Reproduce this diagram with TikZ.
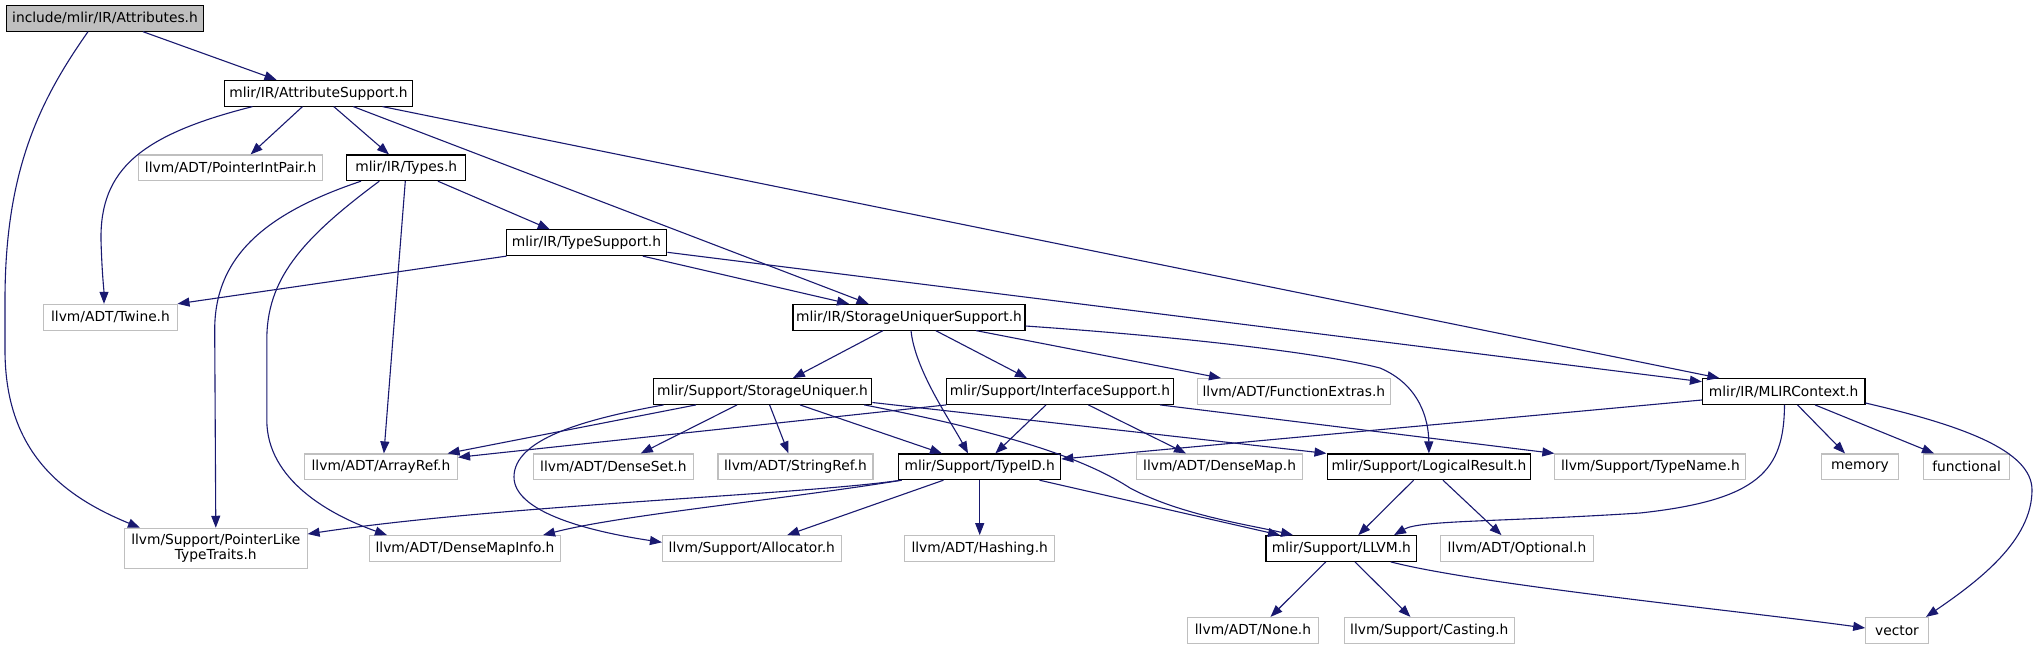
\documentclass[tikz,border=0pt]{standalone}
\usepackage{fontspec}
\setmainfont{DejaVu Sans}
\usetikzlibrary{arrows.meta}
\definecolor{edgeblue}{RGB}{25,25,112}
\definecolor{extgray}{RGB}{191,191,191}
\begin{document}
\begin{tikzpicture}[x=1pt,y=-1pt,
  every node/.style={font=\fontsize{13.8}{14.5}\selectfont},
  docbox/.style={draw=black,line width=1.1pt,fill=white,minimum height=25.7pt,inner sep=0pt},
  extbox/.style={draw=extgray,line width=1.1pt,fill=white,minimum height=25.7pt,inner sep=0pt},
  dep/.style={draw=edgeblue,line width=1.1pt,-{Triangle[length=12pt,width=9pt]}}]
\fill[white] (0,0) rectangle (2040,649);
\useasboundingbox (0,0) rectangle (2040,649);
% row 0
\node[docbox,fill=extgray,minimum width=197pt] (att) at (105,18.3) {include/mlir/IR/Attributes.h};
% row 1
\node[docbox,minimum width=188pt] (as) at (318.5,93.2) {mlir/IR/AttributeSupport.h};
% row 2
\node[extbox,minimum width=184pt] (pip) at (230.6,167.8) {llvm/ADT/PointerIntPair.h};
\node[docbox,minimum width=119pt] (types) at (406.3,167.8) {mlir/IR/Types.h};
% row 3
\node[docbox,minimum width=160.7pt] (ts) at (586.5,242.7) {mlir/IR/TypeSupport.h};
% row 4
\node[extbox,minimum width=134pt] (twine) at (110.5,317.2) {llvm/ADT/Twine.h};
\node[docbox,minimum width=232pt] (sus) at (909,317.2) {mlir/IR/StorageUniquerSupport.h};
% row 5
\node[docbox,minimum width=218.8pt] (su) at (762.5,391.5) {mlir/Support/StorageUniquer.h};
\node[docbox,minimum width=226.3pt] (is) at (1060,391.5) {mlir/Support/InterfaceSupport.h};
\node[extbox,minimum width=193pt] (fe) at (1293.9,391.5) {llvm/ADT/FunctionExtras.h};
\node[docbox,minimum width=162.5pt] (mc) at (1783.7,391.5) {mlir/IR/MLIRContext.h};
% row 6
\node[extbox,minimum width=153pt] (ar) at (381,466.8) {llvm/ADT/ArrayRef.h};
\node[extbox,minimum width=160pt] (dset) at (613.4,466.8) {llvm/ADT/DenseSet.h};
\node[extbox,minimum width=155pt] (sr) at (795.5,466.8) {llvm/ADT/StringRef.h};
\node[docbox,minimum width=162pt] (tid) at (979.7,466.8) {mlir/Support/TypeID.h};
\node[extbox,minimum width=166pt] (dmap) at (1219.6,466.8) {llvm/ADT/DenseMap.h};
\node[docbox,minimum width=203.7pt] (lr) at (1428.9,466.8) {mlir/Support/LogicalResult.h};
\node[extbox,minimum width=191pt] (tn) at (1650.4,466.8) {llvm/Support/TypeName.h};
\node[extbox,minimum width=77pt] (mem) at (1860,466.8) {memory};
\node[extbox,minimum width=86pt] (func) at (1966.6,466.8) {functional};
% row 7
\node[extbox,minimum width=182.5pt,minimum height=40pt,align=center] (pl) at (215.8,548.3) {llvm/Support/PointerLike\\TypeTraits.h};
\node[extbox,minimum width=190.7pt] (dmi) at (465,548.5) {llvm/ADT/DenseMapInfo.h};
\node[extbox,minimum width=178.6pt] (alloc) at (751.8,548.5) {llvm/Support/Allocator.h};
\node[extbox,minimum width=150.4pt] (hash) at (979.7,548.5) {llvm/ADT/Hashing.h};
\node[docbox,minimum width=150.8pt] (llvm) at (1341.4,548.5) {mlir/Support/LLVM.h};
\node[extbox,minimum width=153pt] (opt) at (1517,548.5) {llvm/ADT/Optional.h};
% row 8
\node[extbox,minimum width=131.4pt] (none) at (1253,630.3) {llvm/ADT/None.h};
\node[extbox,minimum width=170.5pt] (cast) at (1429.3,630.3) {llvm/Support/Casting.h};
\node[extbox,minimum width=62.5pt] (vec) at (1897,630.3) {vector};

% edges from Attributes.h
\draw[dep] ([xshift=38pt]att.south) -- ([xshift=-42pt]as.north);
\draw[dep] ([xshift=-17pt]att.south) .. controls (40,100) and (5,170) .. (5,300) -- (5,350) .. controls (5,450) and (60,495) .. ([xshift=-75.8pt]pl.north);
% edges from AttributeSupport.h
\draw[dep] ([xshift=-66pt]as.south) .. controls (140,135) and (100,170) .. (101,240) .. controls (102,275) and (104,290) .. ([xshift=-6.5pt]twine.north);
\draw[dep] ([xshift=-16pt]as.south) -- ([xshift=20pt]pip.north);
\draw[dep] ([xshift=15.3pt]as.south) -- ([xshift=-17.3pt]types.north);
\draw[dep] ([xshift=34.8pt]as.south) -- ([xshift=-40.4pt]sus.north);
\draw[dep] ([xshift=64pt]as.south) -- ([xshift=-64.3pt]mc.north);
% edges from Types.h
\draw[dep] ([xshift=-45.3pt]types.south) .. controls (260,215) and (214.7,260) .. (214.7,330) -- (pl.north);
\draw[dep] ([xshift=-27pt]types.south) .. controls (300,240) and (266.8,280) .. (266.8,340) -- (266.8,420) .. controls (266.8,480) and (330,515) .. ([xshift=-78pt]dmi.north);
\draw[dep] ([xshift=-1pt]types.south) -- ([xshift=2.9pt]ar.north);
\draw[dep] ([xshift=31.6pt]types.south) -- ([xshift=-36.7pt]ts.north);
% edges from TypeSupport.h
\draw[dep] ([xshift=-80pt]ts.south) -- ([xshift=67pt]twine.north);
\draw[dep] ([xshift=56.3pt]ts.south) -- ([xshift=-60pt]sus.north);
\draw[dep] ([yshift=-9.6pt]ts.east) -- ([yshift=9.8pt]mc.west);
% edges from StorageUniquerSupport.h
\draw[dep] ([xshift=-26pt]sus.south) -- ([xshift=30.4pt]su.north);
\draw[dep] ([xshift=2pt]sus.south) .. controls (915,370) and (950,420) .. ([xshift=-11.7pt]tid.north);
\draw[dep] ([xshift=26.7pt]sus.south) -- ([xshift=-33pt]is.north);
\draw[dep] ([xshift=67pt]sus.south) -- ([xshift=-72.9pt]fe.north);
\draw[dep] ([yshift=-8.8pt]sus.east) .. controls (1200,338) and (1330,355) .. (1380,368) .. controls (1420,385) and (1428.6,420) .. (lr.north);
% edges from MLIRContext.h
\draw[dep] ([yshift=-8.5pt]mc.west) -- ([yshift=7.8pt]tid.east);
\draw[dep] ([xshift=13.8pt]mc.south) -- ([xshift=-15pt]mem.north);
\draw[dep] ([xshift=31.3pt]mc.south) -- ([xshift=-32.6pt]func.north);
\draw[dep] ([yshift=-11.5pt]mc.east) .. controls (1960,425) and (2032,450) .. (2032,490) .. controls (2032,540) and (1980,580) .. ([xshift=29pt]vec.north);
\draw[dep] ([xshift=0.8pt]mc.south) .. controls (1784,470) and (1760,500) .. (1640,513) .. controls (1500,522) and (1420,520) .. ([xshift=52.6pt]llvm.north);
% edges from StorageUniquer.h
\draw[dep] ([xshift=-66.5pt]su.south) -- ([xshift=66.6pt]ar.north);
\draw[dep] ([xshift=-98.9pt]su.south) .. controls (580,420) and (514,440) .. (514,477) .. controls (514,510) and (580,530) .. ([yshift=6.2pt]alloc.west);
\draw[dep] ([xshift=-25.5pt]su.south) -- ([xshift=27.4pt]dset.north);
\draw[dep] ([xshift=7.1pt]su.south) -- ([xshift=-7pt]sr.north);
\draw[dep] ([xshift=37.5pt]su.south) -- ([xshift=-37.7pt]tid.north);
\draw[dep] ([xshift=101.8pt]su.south) .. controls (1020,435) and (1090,462) .. (1130,488) .. controls (1180,515) and (1250,525) .. ([xshift=-48.4pt]llvm.north);
\draw[dep] ([yshift=-11pt]su.east) -- (lr.north west);
% edges from InterfaceSupport.h
\draw[dep] (is.south west) -- ([yshift=9.5pt]ar.east);
\draw[dep] ([xshift=-14pt]is.south) -- ([xshift=15.7pt]tid.north);
\draw[dep] ([xshift=28.3pt]is.south) -- ([xshift=-33.6pt]dmap.north);
\draw[dep] ([xshift=100pt]is.south) -- (tn.north west);
% edges from TypeID.h
\draw[dep] ([xshift=-78.7pt]tid.south) .. controls (800,495) and (500,505) .. ([yshift=14.3pt]pl.east);
\draw[dep] ([xshift=-78pt]tid.south) .. controls (780,500) and (620,515) .. ([xshift=78pt]dmi.north);
\draw[dep] ([xshift=-36.3pt]tid.south) -- ([xshift=35.4pt]alloc.north);
\draw[dep] (tid.south) -- (hash.north);
\draw[dep] ([xshift=59.8pt]tid.south) -- ([xshift=-61.4pt]llvm.north);
% edges from LogicalResult.h
\draw[dep] ([xshift=-15.3pt]lr.south) -- ([xshift=16.9pt]llvm.north);
\draw[dep] ([xshift=14.1pt]lr.south) -- ([xshift=-15.5pt]opt.north);
% edges from LLVM.h
\draw[dep] ([xshift=-15.6pt]llvm.south) -- ([xshift=17.5pt]none.north);
\draw[dep] ([xshift=13.6pt]llvm.south) -- ([xshift=-18.9pt]cast.north);
\draw[dep] ([xshift=49.4pt]llvm.south) .. controls (1480,585) and (1750,612) .. ([yshift=2.3pt]vec.west);
\end{tikzpicture}
\end{document}
